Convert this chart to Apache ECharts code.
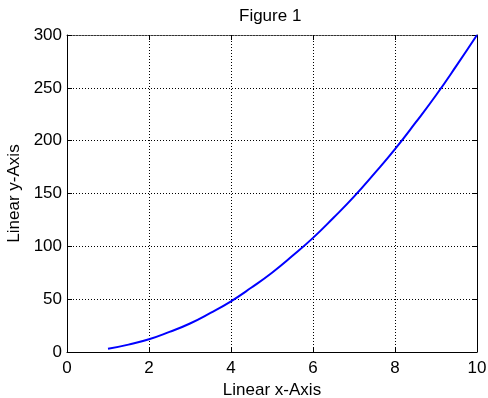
<!DOCTYPE html>
<html>
<head>
<meta charset="utf-8">
<script src="https://cdn.jsdelivr.net/npm/echarts@6/dist/echarts.min.js"></script>
<style>
  html, body { margin: 0; padding: 0; background: #fff; }
  #chart { width: 488px; height: 398px; }
</style>
</head>
<body>
<div id="chart"></div>
<script>
// values
const xValues = [1, 1.5, 2, 2.5, 3, 3.5, 4, 4.5, 5, 5.5, 6, 6.5, 7, 7.5, 8, 8.5, 9, 9.5, 10];
const yValues = [3, 7, 12, 19, 27, 37, 48, 61, 75, 91, 108, 127, 147, 169, 192, 217, 243, 271, 300];

const FONT = 'Liberation Sans';
const chart = echarts.init(document.getElementById('chart'));

const lineData = xValues.map((x, i) => [x, yValues[i]]);

const tickStyle = { show: true, inside: true, length: 5, lineStyle: { color: '#000', width: 1 } };
const dotted = { show: true, lineStyle: { color: '#000', type: [1, 2], width: 1 } };

chart.setOption({
  animation: false,
  backgroundColor: '#fff',
  title: {
    text: 'Figure 1',
    left: 239,
    top: 8,
    padding: 0,
    textStyle: { fontFamily: FONT, fontSize: 17, fontWeight: 'normal', color: '#000' },
  },
  grid: { left: 67, right: 11, top: 35, bottom: 46, containLabel: false, outerBoundsMode: 'none' },
  xAxis: [
    {
      type: 'value',
      min: 0,
      max: 10,
      interval: 2,
      name: 'Linear x-Axis',
      nameLocation: 'middle',
      nameGap: 23,
      nameTextStyle: { fontFamily: FONT, fontSize: 17, color: '#000' },
      axisLine: { show: true, onZero: false, lineStyle: { color: '#000', width: 1 } },
      axisTick: tickStyle,
      axisLabel: { fontFamily: FONT, fontSize: 17, color: '#000', margin: 8 },
      splitLine: dotted,
    },
    {
      type: 'value',
      position: 'top',
      min: 0,
      max: 10,
      interval: 2,
      axisLine: { show: true, onZero: false, lineStyle: { color: '#333', width: 1, type: [2, 1] } },
      axisTick: tickStyle,
      axisLabel: { show: false },
      splitLine: { show: false },
    },
  ],
  yAxis: [
    {
      type: 'value',
      min: 0,
      max: 300,
      interval: 50,
      name: 'Linear y-Axis',
      nameLocation: 'middle',
      nameGap: 39,
      nameTextStyle: { fontFamily: FONT, fontSize: 17, color: '#000' },
      axisLine: { show: true, onZero: false, lineStyle: { color: '#000', width: 1 } },
      axisTick: tickStyle,
      axisLabel: { fontFamily: FONT, fontSize: 17, color: '#000', margin: 5 },
      splitLine: dotted,
    },
    {
      type: 'value',
      position: 'right',
      min: 0,
      max: 300,
      interval: 50,
      axisLine: { show: true, onZero: false, lineStyle: { color: '#000', width: 1 } },
      axisTick: tickStyle,
      axisLabel: { show: false },
      splitLine: { show: false },
    },
  ],
  series: [
    {
      type: 'line',
      data: lineData,
      smooth: true,
      showSymbol: false,
      lineStyle: { color: '#0000ff', width: 2 },
    },
  ],
});
</script>
</body>
</html>
